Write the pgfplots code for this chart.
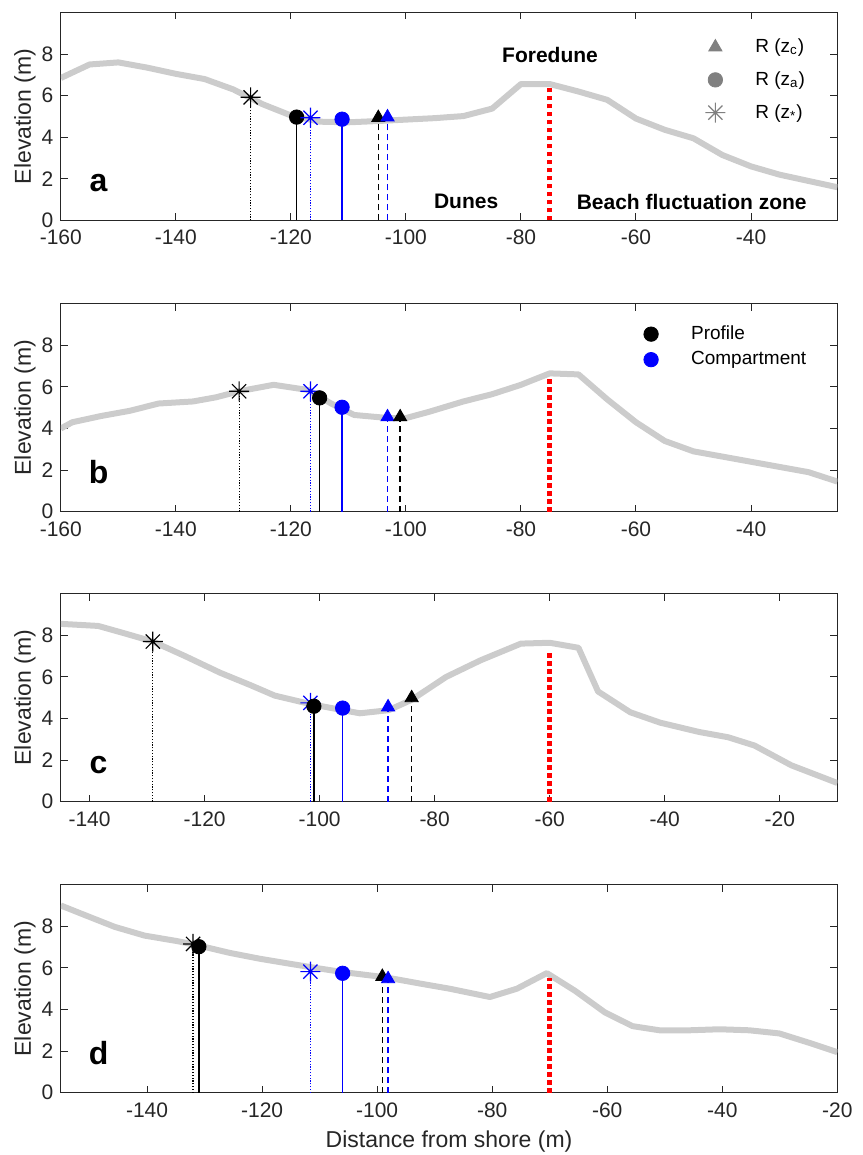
\documentclass[border=0pt]{standalone}
\usepackage{fontspec}
\setmainfont{Liberation Sans}
\usepackage{pgfplots}
\pgfplotsset{compat=1.18}

\definecolor{prof}{gray}{0.8}
\definecolor{axgray}{gray}{0.15}
\definecolor{leggray}{gray}{0.5}
\definecolor{mblue}{rgb}{0,0,1}

\pgfdeclareplotmark{ast8}{%
  \pgfpathmoveto{\pgfqpoint{0pt}{\pgfplotmarksize}}%
  \pgfpathlineto{\pgfqpoint{0pt}{-\pgfplotmarksize}}%
  \pgfpathmoveto{\pgfqpoint{\pgfplotmarksize}{0pt}}%
  \pgfpathlineto{\pgfqpoint{-\pgfplotmarksize}{0pt}}%
  \pgfpathmoveto{\pgfqpoint{0.7071\pgfplotmarksize}{0.7071\pgfplotmarksize}}%
  \pgfpathlineto{\pgfqpoint{-0.7071\pgfplotmarksize}{-0.7071\pgfplotmarksize}}%
  \pgfpathmoveto{\pgfqpoint{-0.7071\pgfplotmarksize}{0.7071\pgfplotmarksize}}%
  \pgfpathlineto{\pgfqpoint{0.7071\pgfplotmarksize}{-0.7071\pgfplotmarksize}}%
  \pgfusepathqstroke}

\tikzset{
  annot/.style={font=\bfseries\fontsize{10.5}{12}\selectfont},
  plab/.style={font=\bfseries\fontsize{16}{18}\selectfont, anchor=base},
}

\pgfplotsset{
  panel/.style={
    scale only axis, width=388.25pt, height=104pt,
    anchor=south west,
    ymin=0, ymax=10, ytick={0,2,4,6,8},
    tick align=inside, major tick length=3.5pt,
    axis line style={axgray, line width=0.5pt},
    every tick/.style={axgray, line width=0.5pt},
    tick label style={font=\fontsize{10.5}{12}\selectfont, text=axgray, inner sep=0.8pt},
    xticklabel style={yshift=-3.9pt},
    yticklabel style={xshift=-2.7pt},
    /pgf/number format/assume math mode=true,
    every axis y label/.style={at={(axis description cs:-0.0461,0.5)}, rotate=90, anchor=center,
      font=\fontsize{11.5}{13}\selectfont, text=axgray},
    every axis x label/.style={at={(axis description cs:0.5,-0.2356)}, anchor=center,
      font=\fontsize{11.5}{13}\selectfont, text=axgray},
    ylabel={Elevation (m)},
    legend cell align=left,
  },
  legimg/.style={legend image code/.code={%
    \pgfpathrectangle{\pgfqpoint{0pt}{-1pt}}{\pgfqpoint{28pt}{2pt}}\pgfusepath{discard}%
    \draw[mark repeat=2,mark phase=2,##1] plot coordinates {(0pt,0pt) (10pt,0pt) (28pt,0pt)};}},
  profline/.style={prof, line width=3pt, line join=round},
  redln/.style={red, line width=2.6pt, dash pattern=on 2.3pt off 1.7pt},
  dotln/.style={line width=0.6pt, dash pattern=on 0.6pt off 0.8pt},
  dashln/.style={line width=0.7pt, dash pattern=on 3pt off 2pt},
  solln/.style={line width=0.7pt},
  mstar/.style={only marks, mark=ast8, mark size=5pt, line width=0.6pt},
  mcirc/.style={only marks, mark=*, mark size=3.6pt},
  mtri/.style={only marks, mark=triangle*, mark size=3.8pt},
}

\begin{document}
\begin{tikzpicture}
\useasboundingbox (0,0) rectangle (431pt,577.5pt);

% ---------------- panel a ----------------
\begin{axis}[panel, at={(30.4pt,467.25pt)},
  xmin=-160, xmax=-25, xtick={-160,-140,-120,-100,-80,-60,-40},
  legend style={at={(rel axis cs:0.8167,0.895)}, anchor=north west, draw=none, fill=none,
    inner sep=0pt, font=\fontsize{9.5}{11}\selectfont, row sep=4pt}]
\addlegendimage{mtri, leggray, legimg}
\addlegendimage{mcirc, leggray, legimg}
\addlegendimage{mstar, leggray, legimg}
\addplot[profline] coordinates {(-160,6.85) (-155,7.5) (-150,7.6) (-145,7.35) (-140,7.05) (-135,6.8) (-130,6.3) (-125,5.6) (-120,5.05) (-115,4.75) (-110,4.72) (-105,4.78) (-100,4.85) (-95,4.92) (-90,5.02) (-85,5.38) (-80,6.56) (-75,6.56) (-70,6.2) (-65,5.8) (-60,4.9) (-55,4.36) (-50,3.95) (-45,3.15) (-40,2.6) (-35,2.2) (-30,1.9) (-25,1.6)};
\addplot[redln] coordinates {(-75,0) (-75,6.5)};
\addplot[black, dotln] coordinates {(-127,0) (-127,5.92)};
\addplot[black, solln] coordinates {(-119,0) (-119,4.97)};
\addplot[mblue, dotln] coordinates {(-116.6,0) (-116.6,4.94)};
\addplot[mblue, solln] coordinates {(-111.1,0) (-111.1,4.87)};
\addplot[black, dashln] coordinates {(-104.8,0) (-104.8,4.94)};
\addplot[mblue, dashln] coordinates {(-103.2,0) (-103.2,4.97)};
\addplot[mstar, black] coordinates {(-127,5.92)};
\addplot[mcirc, black] coordinates {(-119,4.97)};
\addplot[mstar, mblue] coordinates {(-116.6,4.94)};
\addplot[mcirc, mblue] coordinates {(-111.1,4.87)};
\addplot[mtri, black] coordinates {(-104.8,4.94)};
\addplot[mtri, mblue] coordinates {(-103.2,4.97)};
\node[annot] at (rel axis cs:0.630,0.796) {Foredune};
\node[annot] at (rel axis cs:0.522,0.090) {Dunes};
\node[annot] at (rel axis cs:0.8125,0.090) {Beach fluctuation zone};
\node[plab] at (rel axis cs:0.0486,0.137) {a};
\legend{R (z\textsubscript{c}), R (z\textsubscript{a}), R (z\textsubscript{*})}
\end{axis}

% ---------------- panel b ----------------
\begin{axis}[panel, at={(30.4pt,321.65pt)},
  xmin=-160, xmax=-25, xtick={-160,-140,-120,-100,-80,-60,-40},
  legend style={at={(rel axis cs:0.7339,0.915)}, anchor=north west, draw=none, fill=none,
    inner sep=0pt, font=\fontsize{9.5}{11}\selectfont, row sep=0.5pt}]
\addlegendimage{mcirc, black, legimg}
\addlegendimage{mcirc, mblue, legimg}
\addplot[profline] coordinates {(-160,4.0) (-158,4.3) (-153,4.6) (-148,4.85) (-143,5.2) (-137,5.3) (-133,5.5) (-129,5.79) (-123,6.1) (-117,5.85) (-113,5.2) (-109,4.65) (-103,4.5) (-100,4.5) (-96,4.8) (-90,5.3) (-85,5.65) (-80,6.1) (-75,6.65) (-70,6.6) (-65,5.4) (-60,4.3) (-55,3.4) (-50,2.9) (-40,2.4) (-30,1.9) (-25,1.45)};
\addplot[redln] coordinates {(-75,0) (-75,6.5)};
\addplot[black, dotln] coordinates {(-129,0) (-129,5.79)};
\addplot[mblue, dotln] coordinates {(-116.6,0) (-116.6,5.79)};
\addplot[black, solln] coordinates {(-115,0) (-115,5.47)};
\addplot[mblue, solln] coordinates {(-111.1,0) (-111.1,5.02)};
\addplot[mblue, dashln] coordinates {(-103.2,0) (-103.2,4.55)};
\addplot[black, dashln] coordinates {(-101,0) (-101,4.55)};
\addplot[mstar, black] coordinates {(-129,5.79)};
\addplot[mstar, mblue] coordinates {(-116.6,5.79)};
\addplot[mcirc, black] coordinates {(-115,5.47)};
\addplot[mcirc, mblue] coordinates {(-111.1,5.02)};
\addplot[mtri, mblue] coordinates {(-103.2,4.55)};
\addplot[mtri, black] coordinates {(-101,4.55)};
\node[plab] at (rel axis cs:0.0486,0.137) {b};
\legend{Profile, Compartment}
\end{axis}

% ---------------- panel c ----------------
\begin{axis}[panel, at={(30.4pt,176.65pt)},
  xmin=-145, xmax=-10, xtick={-140,-120,-100,-80,-60,-40,-20}]
\addplot[profline] coordinates {(-145,8.55) (-138.5,8.45) (-134,8.1) (-129,7.7) (-123.4,7.0) (-117.3,6.2) (-112,5.6) (-107.8,5.1) (-101.7,4.7) (-96,4.4) (-93,4.25) (-88,4.4) (-84,4.9) (-78,6.0) (-72,6.8) (-65,7.6) (-60,7.64) (-55,7.4) (-51.6,5.3) (-46,4.3) (-40.8,3.8) (-34,3.35) (-29,3.1) (-24.4,2.7) (-18,1.75) (-10,0.9)};
\addplot[redln] coordinates {(-60,0) (-60,7.25)};
\addplot[black, dotln] coordinates {(-129,0) (-129,7.7)};
\addplot[mblue, dotln] coordinates {(-101.6,0) (-101.6,4.75)};
\addplot[black, solln] coordinates {(-101,0) (-101,4.59)};
\addplot[mblue, solln] coordinates {(-96,0) (-96,4.5)};
\addplot[mblue, dashln] coordinates {(-88.1,0) (-88.1,4.55)};
\addplot[black, dashln] coordinates {(-84,0) (-84,4.99)};
\addplot[mstar, black] coordinates {(-129,7.7)};
\addplot[mstar, mblue] coordinates {(-101.6,4.75)};
\addplot[mcirc, black] coordinates {(-101,4.59)};
\addplot[mcirc, mblue] coordinates {(-96,4.5)};
\addplot[mtri, mblue] coordinates {(-88.1,4.55)};
\addplot[mtri, black] coordinates {(-84,4.99)};
\node[plab] at (rel axis cs:0.0486,0.137) {c};
\end{axis}

% ---------------- panel d ----------------
\begin{axis}[panel, at={(30.4pt,31.15pt)},
  xmin=-155, xmax=-20, xtick={-140,-120,-100,-80,-60,-40,-20},
  xlabel={Distance from shore (m)}]
\addplot[profline] coordinates {(-155,9.0) (-150,8.45) (-145.6,7.97) (-140.4,7.55) (-135,7.3) (-131.7,7.12) (-125.6,6.72) (-120.4,6.44) (-115.2,6.2) (-110,5.97) (-106,5.8) (-98.6,5.55) (-92.6,5.25) (-87.4,5.0) (-80.4,4.6) (-75.7,5.0) (-70.5,5.75) (-65.6,4.9) (-60.4,3.86) (-55.6,3.2) (-50.9,3.0) (-45.7,3.0) (-40.5,3.05) (-35.3,3.0) (-30.1,2.85) (-24.9,2.4) (-20,1.95)};
\addplot[redln] coordinates {(-70,0) (-70,5.5)};
\addplot[black, dotln] coordinates {(-132,0) (-132,7.15)};
\addplot[black, solln] coordinates {(-131,0) (-131,7.02)};
\addplot[mblue, dotln] coordinates {(-111.6,0) (-111.6,5.82)};
\addplot[mblue, solln] coordinates {(-106,0) (-106,5.74)};
\addplot[black, dashln] coordinates {(-99.1,0) (-99.1,5.58)};
\addplot[mblue, dashln] coordinates {(-98.1,0) (-98.1,5.47)};
\addplot[mstar, black] coordinates {(-132,7.15)};
\addplot[mcirc, black] coordinates {(-131,7.02)};
\addplot[mstar, mblue] coordinates {(-111.6,5.82)};
\addplot[mcirc, mblue] coordinates {(-106,5.74)};
\addplot[mtri, black] coordinates {(-99.1,5.58)};
\addplot[mtri, mblue] coordinates {(-98.1,5.47)};
\node[plab] at (rel axis cs:0.0486,0.137) {d};
\end{axis}
\end{tikzpicture}
\end{document}
